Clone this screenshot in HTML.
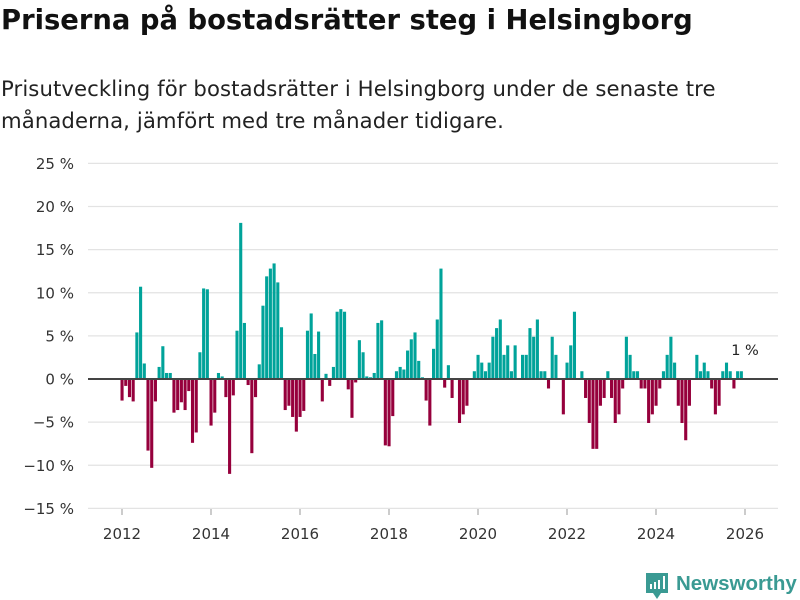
<!DOCTYPE html>
<html><head><meta charset="utf-8">
<style>
body{margin:0;background:#fff;font-family:"DejaVu Sans",sans-serif;}
#wrap{position:relative;width:800px;height:600px;overflow:hidden;}
h1{position:absolute;left:1px;top:5px;margin:0;font-size:27.4px;font-weight:bold;color:#111;white-space:nowrap;letter-spacing:0px;}
p.sub{position:absolute;left:1px;top:73px;margin:0;font-size:21.2px;line-height:32px;color:#222;width:798px;white-space:nowrap;letter-spacing:0.1px;}
svg{position:absolute;left:0;top:0;}
</style></head><body>
<div id="wrap">
<h1>Priserna på bostadsrätter steg i Helsingborg</h1>
<p class="sub">Prisutveckling för bostadsrätter i Helsingborg under de senaste tre<br>månaderna, jämfört med tre månader tidigare.</p>
<svg id="chart" width="800" height="600"></svg>
</div>
<script>
const startYear = 2012;
const values = [-2.5,-0.8,-2.1,-2.6,5.4,10.7,1.8,-8.3,-10.3,-2.6,1.4,3.8,0.7,0.7,-3.9,-3.6,-2.7,-3.6,-1.4,-7.4,-6.2,3.1,10.5,10.4,-5.4,-3.9,0.7,0.3,
-2.1,-11,-1.9,5.6,18.1,6.5,-0.7,-8.6,-2.1,1.7,8.5,11.9,12.8,13.4,11.2,6.0,-3.6,-3.1,-4.4,-6.1,-4.4,-3.7,5.6,7.6,2.9,5.5,-2.6,0.6,
-0.8,1.4,7.8,8.1,7.8,-1.2,-4.5,-0.4,4.5,3.1,0.3,0.2,0.7,6.5,6.8,-7.7,-7.8,-4.3,0.9,1.4,1.1,3.3,4.6,5.4,2.1,0.2,-2.5,-5.4,
3.5,6.9,12.8,-1.0,1.6,-2.2,0.1,-5.1,-4.1,-3.1,0.1,0.9,2.8,1.9,0.9,1.9,4.9,5.9,6.9,2.8,3.9,0.9,3.9,0.1,2.8,2.8,5.9,4.9,6.9,
0.9,0.9,-1.1,4.9,2.8,0,-4.1,1.9,3.9,7.8,0,0.9,-2.2,-5.1,-8.1,-8.1,-3.1,-2.2,0.9,-2.2,-5.1,-4.1,-1.1,4.9,2.8,0.9,0.9,-1.1,
-1.1,-5.1,-4.1,-3.1,-1.1,0.9,2.8,4.9,1.9,-3.1,-5.1,-7.1,-3.1,0,2.8,0.9,1.9,0.9,-1.1,-4.1,-3.1,0.9,1.9,0.9,-1.1,0.9,0.9];
const yTicks = [-15,-10,-5,0,5,10,15,20,25];
const xTicks = [2012,2014,2016,2018,2020,2022,2024,2026];
const lastLabel = "1 %";

const NS="http://www.w3.org/2000/svg";
const svg=document.getElementById('chart');
const FF='DejaVu Sans, sans-serif';
const y=v=>379-(v)*8.625;
const x=t=>122+(t-2012)*44.5;
function mk(tag,attrs){const e=document.createElementNS(NS,tag);for(const k in attrs)e.setAttribute(k,attrs[k]);svg.appendChild(e);return e;}
yTicks.forEach(v=>{
  if(v!==0){const g=mk('line',{x1:88,x2:778,y1:y(v),y2:y(v),stroke:'#e3e3e3','stroke-width':1.3});
  
  }
  const t=mk('text',{x:74,y:y(v)+5.5,'text-anchor':'end','font-size':15,fill:'#333','font-family':FF});
  t.textContent=(v<0?'\u2212'+(-v):v)+' %';
  
  
});
xTicks.forEach(yr=>{
  const l=mk('line',{x1:x(yr),x2:x(yr),y1:509,y2:515,stroke:'#999','stroke-width':1});
  
  
  const t=mk('text',{x:x(yr),y:539,'text-anchor':'middle','font-size':15,fill:'#333','font-family':FF});
  t.textContent=yr;
  
  
});
values.forEach((v,i)=>{
  const cx=x(startYear+i/12);
  const top=Math.min(y(v),y(0)), h=Math.abs(y(v)-y(0));
  const r=mk('rect',{x:cx-1.5,y:top,width:3.1,height:h,fill:v>=0?'#00a39a':'#96003c'});
  
  
});
const z=mk('line',{x1:88,x2:778,y1:y(0),y2:y(0),stroke:'#444','stroke-width':2});


const ann=mk('text',{x:745,y:355,'text-anchor':'middle','font-size':14.5,fill:'#222','font-family':FF});
ann.textContent=lastLabel;


const lg=mk('path',{d:'M646 573 h22 v20 h-7 l-4 6 l-4 -6 h-7 z',fill:'#3a9a93'});


[[650,584,2,5],[654,582,2,7],[658,580,2,9],[663,576,2,13]].forEach(b=>{
  const r=mk('rect',{x:b[0],y:b[1],width:b[2],height:b[3],fill:'#fff'});
  
  
});
const lt=mk('text',{x:676,y:590,'font-size':20.5,'font-weight':'bold',fill:'#3a9a93','font-family':'Liberation Sans, sans-serif'});
lt.textContent='Newsworthy';


</script>
</body></html>
